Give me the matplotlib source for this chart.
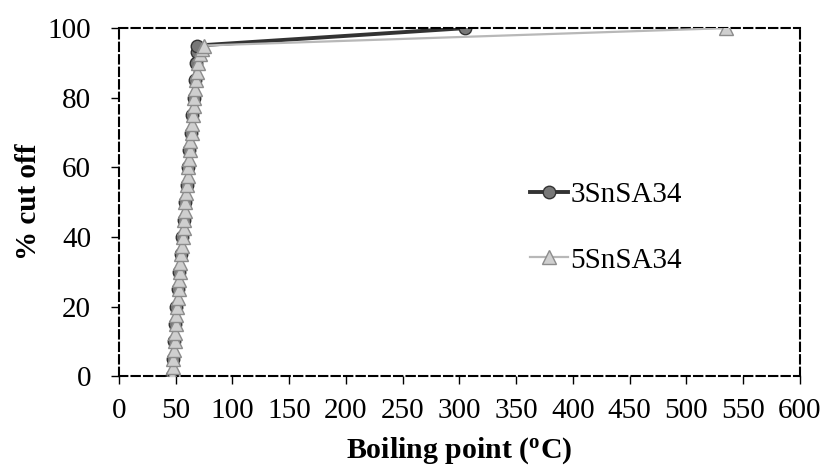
import matplotlib
matplotlib.use("Agg")
import matplotlib.pyplot as plt

plt.rcParams['font.family'] = ['Liberation Serif', 'DejaVu Serif']
plt.rcParams['mathtext.fontset'] = 'custom'
plt.rcParams['mathtext.rm'] = 'Liberation Serif'
plt.rcParams['mathtext.bf'] = 'Liberation Serif:bold'

# 3SnSA34
bp_3 = [46.5, 47.5, 48.5, 49.5, 50.5, 52, 53, 54.5, 55.5, 57, 58, 59.5, 60.5, 62, 63.5,
        64.5, 66, 67, 68, 68.5, 69, 305]
cut_3 = [0, 5, 10, 15, 20, 25, 30, 35, 40, 45, 50, 55, 60, 65, 70, 75, 80, 85, 90, 93, 95, 100]

# 5SnSA34
bp_5 = [47, 47.5, 48, 48.5, 49, 49.5, 50, 50.5, 51, 52, 52.5, 53, 53.5, 54, 55, 55.5, 56, 57,
        57.5, 58, 58.5, 59, 60, 60.5, 61, 62, 62.5, 63, 64, 64.5, 65, 66, 66.5, 67, 68, 69,
        70, 71, 73, 75, 535]
cut_5 = [0, 2.5, 5, 7.5, 10, 12.5, 15, 17.5, 20, 22.5, 25, 27.5, 30, 32.5, 35, 37.5, 40, 42.5,
         45, 47.5, 50, 52.5, 55, 57.5, 60, 62.5, 65, 67.5, 70, 72.5, 75, 77.5, 80, 82.5, 85, 87.5,
         90, 92.5, 94, 95, 100]

x_ticks = [0, 50, 100, 150, 200, 250, 300, 350, 400, 450, 500, 550, 600]
y_ticks = [0, 20, 40, 60, 80, 100]

fig = plt.figure(figsize=(8.27, 4.69), dpi=100)
ax = fig.add_axes([0.1439, 0.198, 0.8231, 0.742])

ax.plot(bp_3, cut_3, color='#333333', lw=2.8, marker='o', ms=9,
        mfc='#777777', mec='#333333', mew=1.0, label='3SnSA34', zorder=2)
ax.plot(bp_5, cut_5, color='#b8b8b8', lw=1.6, marker='^', ms=10,
        mfc='#cfcfcf', mec='#8c8c8c', mew=1.0, label='5SnSA34', zorder=3)

ax.set_xlim(0, 600)
ax.set_ylim(0, 100)
ax.set_xticks(x_ticks)
ax.set_yticks(y_ticks)
ax.tick_params(axis='both', labelsize=21, direction='out', length=6, width=1, colors='black')
ax.tick_params(axis='x', pad=10)
ax.tick_params(axis='y', pad=14)

for s in ax.spines.values():
    s.set_linestyle((0, (4, 2)))
    s.set_linewidth(1.5)
    s.set_color('black')

ax.set_xlabel('Boiling point ($\\mathbf{^{o}}$C)', fontsize=21.5, fontweight='bold', labelpad=8)
ax.set_ylabel('% cut off', fontsize=21, fontweight='bold', labelpad=4)

leg = ax.legend(loc='center left', bbox_to_anchor=(0.6035, 0.427), frameon=False, borderpad=0,
                fontsize=21, handlelength=1.3, labelspacing=1.35, handletextpad=0.1,
                borderaxespad=0)

fig.savefig('out.png', dpi=100)
